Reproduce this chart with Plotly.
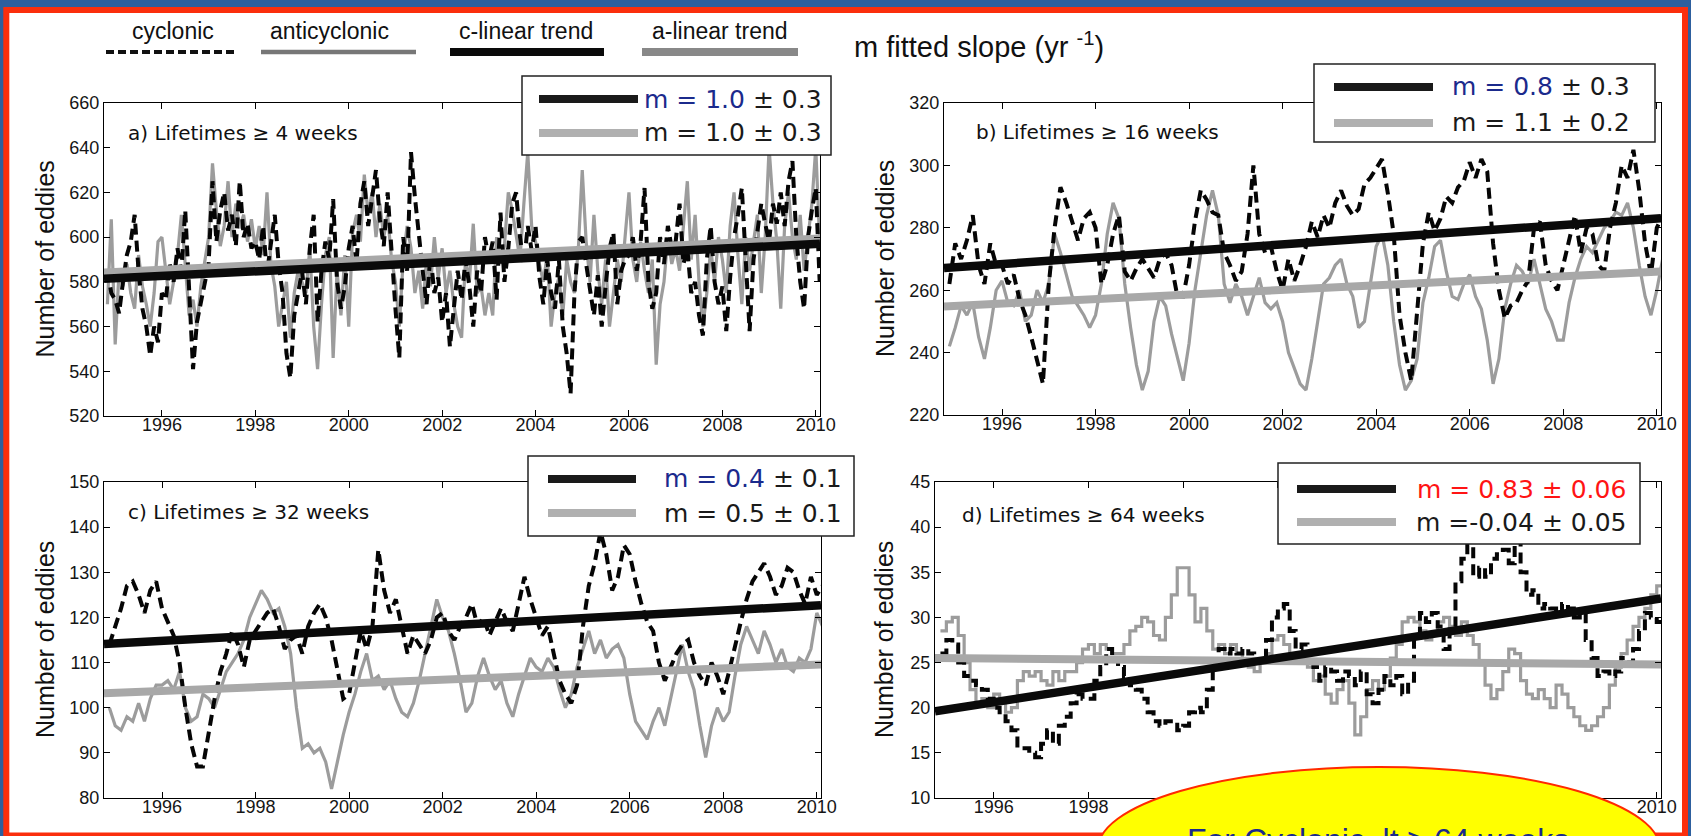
import plotly.graph_objects as go

W, H = 1691, 836

# ---------------- data ----------------
years_ticks = [1996, 1998, 2000, 2002, 2004, 2006, 2008, 2010]

# panel a : monthly grid starting Nov 1994
A_T0, A_STEP = 1994.833, 1.0 / 12
a_cyc = [585, 575,
         572, 566, 580, 592, 598, 610, 585, 568, 560, 547, 560, 553,
         575, 572, 588, 580, 595, 585, 612, 575, 541, 562, 570, 578,
         588, 625, 598, 612, 620, 603, 610, 596, 625, 600, 606, 595,
         598, 590, 605, 584, 598, 610, 588, 575, 548, 537, 565, 575,
         585, 570, 595, 610, 562, 585, 598, 590, 617, 580, 568, 578,
         595, 605, 588, 615, 625, 605, 618, 630, 608, 596, 620, 592,
         568, 546, 600, 585, 638, 618, 600, 585, 570, 592, 575, 582,
         562, 575, 551, 568, 585, 572, 590, 578, 560, 585, 575, 600,
         590, 598, 572, 611, 580, 595, 615, 620, 600, 588, 605, 594,
         605, 582, 570, 590, 575, 568, 590, 560, 548, 530, 575, 598,
         600, 588, 575, 565, 583, 560, 578, 595, 602, 570, 585, 590,
         592, 600, 585, 598, 622, 580, 568, 575, 600, 588, 605, 595,
         598, 615, 588, 595, 575, 580, 565, 556, 590, 605, 580, 570,
         578, 558, 582, 600, 610, 622, 590, 558, 590, 602, 615, 606,
         598, 615, 606, 620, 605, 625, 634, 600, 580, 568, 600, 612,
         622, 580]
a_anti = [570, 608,
          552, 585, 578, 588, 575, 568, 592, 578, 570, 560, 575, 598,
          600, 585, 570, 580, 592, 610, 588, 565, 572, 560, 578, 590,
          600, 633, 612, 596, 605, 625, 600, 615, 604, 610, 598, 608,
          595, 605, 592, 620, 588, 578, 560, 570, 580, 555, 575, 585,
          580, 575, 595, 560, 541, 570, 592, 600, 546, 585, 565, 592,
          560, 602, 610, 598, 628, 610, 620, 600, 615, 600, 610, 590,
          580, 560, 590, 605, 595, 575, 585, 568, 590, 578, 600, 582,
          595, 575, 585, 570, 560, 555, 590, 580, 606, 575, 578, 565,
          575, 565, 600, 588, 596, 620, 612, 600, 590, 615, 638, 605,
          598, 588, 580, 592, 560, 575, 582, 565, 590, 580, 575, 595,
          630, 598, 580, 610, 585, 570, 590, 560, 575, 590, 580, 600,
          620, 590, 580, 598, 585, 575, 590, 543, 570, 580, 600, 588,
          595, 585, 605, 625, 590, 610, 580, 560, 575, 595, 580, 600,
          590, 575, 605, 620, 592, 570, 600, 585, 598, 610, 575, 600,
          640, 615, 598, 568, 605, 620, 600, 590, 610, 585, 600, 615,
          640, 598]

# panels b, c, d : 1.5-month grid starting Nov 1994
T0, STEP = 1994.875, 0.125
b_cyc = [262,
         275, 270, 276, 284, 268, 262, 275, 268,
         268, 262, 265, 257, 252, 245, 237, 230,
         262, 280, 293, 288, 282, 276, 283, 285,
         280, 262, 268, 278, 284, 266, 263, 267,
         270, 267, 264, 270, 272, 268, 258, 258,
         268, 282, 292, 289, 285, 284, 272, 268,
         263, 266, 278, 300, 278, 272, 274, 266,
         260, 270, 263, 268, 274, 282, 277, 284,
         280, 288, 292, 287, 284, 286, 294, 296,
         299, 302, 291, 278, 252, 240, 231, 255,
         275, 285, 279, 283, 290, 288, 293, 295,
         301, 296, 302, 298, 275, 260, 251, 255,
         256, 260, 263, 280, 282, 268, 263, 260,
         268, 276, 284, 272, 280, 278, 268, 266,
         280, 288, 300, 296, 305, 292, 275, 265,
         280, 284]
b_anti = [242,
          248, 255, 252, 256, 245, 238, 248, 260,
          263, 256, 255, 260, 250, 252, 260, 256,
          262, 278, 272, 265, 258, 255, 252, 248,
          252, 262, 278, 288, 283, 262, 248, 236,
          228, 234, 250, 258, 255, 246, 238, 231,
          243, 260, 272, 284, 292, 284, 262, 256,
          262, 258, 252, 258, 264, 256, 254, 256,
          250, 240, 235, 230, 228, 238, 250, 262,
          264, 268, 270, 262, 258, 248, 250, 262,
          274, 278, 268, 250, 236, 228, 231, 238,
          256, 264, 274, 276, 266, 258, 257, 262,
          265, 258, 254, 244, 230, 238, 254, 262,
          268, 266, 262, 270, 262, 254, 250, 244,
          244, 256, 264, 270, 274, 272, 276, 280,
          282, 285, 284, 288, 280, 268, 258, 252,
          260, 270]
c_cyc = [114,
         118, 122, 127, 128, 125, 121, 126, 128,
         122, 119, 116, 110, 100, 92, 87, 87,
         95, 102, 108, 112, 117, 114, 109, 115,
         117, 119, 121, 122, 118, 113, 115, 116,
         112, 118, 121, 123, 120, 115, 108, 102,
         103, 110, 117, 113, 118, 135, 126, 121,
         124, 118, 112, 116, 114, 112, 115, 120,
         121, 117, 115, 118, 120, 123, 118, 120,
         116, 119, 122, 119, 117, 123, 129, 124,
         120, 116, 118, 112, 106, 103, 101, 105,
         118, 127, 132, 139, 134, 126, 129, 136,
         134, 128, 123, 119, 117, 110, 106, 109,
         112, 114, 115, 110, 107, 105, 110, 107,
         103, 108, 114, 119, 124, 128, 130, 132,
         129, 125, 127, 131, 130, 126, 123, 129,
         125, 127]
c_anti = [100,
          96, 95, 98, 97, 101, 97, 102, 105,
          105, 106, 104, 108, 100, 97, 98, 103,
          102, 100, 104, 108, 110, 112, 115, 120,
          123, 126, 124, 121, 122, 118, 112, 100,
          91, 92, 90, 91, 88, 82, 88, 94,
          99, 103, 108, 112, 106, 107, 104, 106,
          102, 99, 98, 101, 106, 112, 118, 124,
          120, 117, 112, 106, 99, 101, 107, 111,
          107, 104, 106, 101, 98, 103, 107, 111,
          109, 108, 111, 109, 104, 100, 103, 109,
          113, 117, 112, 115, 111, 113, 114, 111,
          103, 97, 95, 93, 97, 100, 96, 102,
          108, 114, 108, 104, 96, 89, 96, 100,
          97, 99, 107, 114, 118, 115, 112, 117,
          114, 110, 113, 109, 108, 111, 110, 113,
          121, 118]
d_cyc = [26,
         27.5, 27, 25, 23.5, 23, 22.5, 22, 21,
         20, 19.5, 18.5, 17.5, 15.5, 15.5, 15, 14.5,
         16, 17.5, 16, 18, 19, 20.5, 21.5, 21,
         21, 23, 24.5, 26.5, 25.5, 24.5, 23.5, 22.5,
         22, 21, 19.5, 18.5, 18, 18.5, 18.5, 17.5,
         18, 19.5, 20, 19.5, 22, 25, 26.5, 26,
         26.5, 26, 26.5, 26, 25, 25.5, 27.5, 30,
         31, 31.5, 28.5, 26.5, 27, 26, 24.5, 23,
         24.5, 24, 23, 24, 23.5, 22.5, 24, 21.5,
         20.5, 22, 23.5, 22.5, 23.5, 21.5, 23, 28,
         30.5, 29.5, 30.5, 29, 26.5, 29, 34, 36.5,
         38, 34.5, 35.5, 34.5, 36.5, 37, 37.5, 36,
         38.5, 35, 32.5, 33, 31, 31.5, 31, 30.5,
         31.5, 31, 30, 30.5, 27.5, 25.5, 23.5, 24,
         23.5, 24, 25.5, 25, 26.5, 28.5, 30.5, 30,
         29.5, 29]
d_anti = [28.5,
          29.5, 30, 28, 25, 22, 20.5, 21, 20,
          21.5, 21, 19.5, 20, 23, 24, 23.5, 24,
          23, 22.5, 24, 23, 24, 24, 25, 26.5,
          27, 26, 27, 26.5, 26, 26, 27, 28.5,
          29, 30, 29.5, 28, 27.5, 30, 32.5, 35.5,
          35.5, 32.5, 29.5, 31, 28.5, 26.5, 27, 26,
          27, 26, 25, 24.5, 24, 25, 26, 27.5,
          28, 27, 26, 25, 25, 24.5, 23, 23.5,
          21.5, 20.5, 22, 23, 20.5, 17, 19, 22,
          23, 22, 23.5, 25.5, 27, 29.5, 30, 29.5,
          28.5, 27.5, 28, 29.5, 30, 29, 28, 29.5,
          28, 27, 25, 22.5, 21, 22, 24, 26.5,
          26, 23, 21.5, 21, 22, 21, 20, 22.5,
          21.5, 20, 19, 18, 17.5, 18, 19, 20,
          22.5, 24.5, 26, 27.5, 29, 30, 31, 32.5,
          33.5, 34]

# linear trends (value at start and end of the time axis)
trend_t = [1994.76, 2010.09]
a_ctrend, a_atrend = [581.4, 597.0], [584.2, 599.4]
b_ctrend, b_atrend = [267.1, 283.1], [254.8, 266.0]
c_ctrend, c_atrend = [114.1, 122.7], [103.2, 109.6]
d_ctrend, d_atrend = [19.6, 32.1], [25.5, 24.8]

titles = ["a) Lifetimes \u2265 4 weeks", "b) Lifetimes \u2265 16 weeks",
          "c) Lifetimes \u2265 32 weeks", "d) Lifetimes \u2265 64 weeks"]
c_slopes = ["1.0", "0.8", "0.4", "0.83"]
c_errs = ["0.3", "0.3", "0.1", "0.06"]
a_slopes = ["1.0", "1.1", "0.5", "-0.04"]
a_errs = ["0.3", "0.2", "0.1", "0.05"]
y_ranges = [[520, 660], [220, 320], [80, 150], [10, 45]]
y_dticks = [20, 20, 10, 5]
legend_names = ["cyclonic", "anticyclonic", "c-linear trend", "a-linear trend"]

# ---------------- helpers ----------------
def px(x):
    return x / W

def py(y):
    return 1 - y / H

def grid(t0, step, n):
    return [t0 + step * i for i in range(n)]

# panel geometry in pixels: (left, right, top, bottom)
boxes = [(104, 820, 103, 416), (944, 1661, 103, 415),
         (104, 821, 482, 798), (935, 1661, 482, 798)]

series = [
    (grid(A_T0, A_STEP, len(a_cyc)), a_cyc, grid(A_T0, A_STEP, len(a_anti)), a_anti, a_ctrend, a_atrend, "linear"),
    (grid(T0, STEP, len(b_cyc)), b_cyc, grid(T0, STEP, len(b_anti)), b_anti, b_ctrend, b_atrend, "linear"),
    (grid(T0, STEP, len(c_cyc)), c_cyc, grid(T0, STEP, len(c_anti)), c_anti, c_ctrend, c_atrend, "linear"),
    (grid(T0, STEP, len(d_cyc)), d_cyc, grid(T0, STEP, len(d_anti)), d_anti, d_ctrend, d_atrend, "hv"),
]

BLACK = "#050505"
GREY = "#9c9c9c"
TGREY = "#a8a8a8"
NAVY = "#1b2a8c"
TICKFONT = dict(family="Liberation Sans, Arial, sans-serif", size=18, color="#151515")

fig = go.Figure()
layout = {}
for k, (tc, yc, ta, ya, ct, at, shape) in enumerate(series):
    xa = "x" if k == 0 else f"x{k+1}"
    ya_ = "y" if k == 0 else f"y{k+1}"
    fig.add_trace(go.Scatter(x=ta, y=ya, mode="lines", xaxis=xa, yaxis=ya_,
                             line=dict(color=GREY, width=3.2, shape=shape), showlegend=False))
    fig.add_trace(go.Scatter(x=tc, y=yc, mode="lines", xaxis=xa, yaxis=ya_,
                             line=dict(color=BLACK, width=4, dash="11px,6px", shape=shape), showlegend=False))
    fig.add_trace(go.Scatter(x=trend_t, y=at, mode="lines", xaxis=xa, yaxis=ya_,
                             line=dict(color=TGREY, width=8), showlegend=False))
    fig.add_trace(go.Scatter(x=trend_t, y=ct, mode="lines", xaxis=xa, yaxis=ya_,
                             line=dict(color="#0a0a0a", width=8.5), showlegend=False))
    l, r, t, b = boxes[k]
    common = dict(showline=True, linecolor="black", linewidth=1.3, mirror="ticks",
                  ticks="inside", ticklen=6, tickwidth=1, tickcolor="black",
                  showgrid=False, zeroline=False, tickfont=TICKFONT, automargin=False)
    xkey = "xaxis" if k == 0 else f"xaxis{k+1}"
    ykey = "yaxis" if k == 0 else f"yaxis{k+1}"
    layout[xkey] = dict(domain=[px(l), px(r)], range=[1994.76, 2010.09],
                        tickvals=years_ticks, ticktext=[str(v) for v in years_ticks],
                        ticklabelstandoff=-8, anchor=ya_, **common)
    y0, y1 = y_ranges[k]
    layout[ykey] = dict(domain=[py(b), py(t)], range=[y0, y1],
                        tickmode="linear", tick0=y0, dtick=y_dticks[k],
                        anchor=xa, **common)

fig.update_layout(**layout)

shapes = []
annotations = []

# slide frame: red border, white panel
shapes.append(dict(type="rect", xref="paper", yref="paper", layer="below",
                   x0=px(6.3), x1=px(1685), y0=py(10), y1=py(835.5),
                   fillcolor="white", line=dict(color="#fb2e0c", width=6)))

# y axis labels and panel titles
ylab_x = [45, 885, 45, 884]
title_pos = [(126, 133), (974, 132), (126, 512), (960, 515)]
for k in range(4):
    l, r, t, b = boxes[k]
    annotations.append(dict(text="Number of eddies", xref="paper", yref="paper",
                            x=px(ylab_x[k]), y=py((t + b) / 2), textangle=-90,
                            showarrow=False, xanchor="center", yanchor="middle",
                            font=dict(family="Liberation Sans, Arial, sans-serif", size=25, color="#111")))
    annotations.append(dict(text=titles[k], xref="paper", yref="paper",
                            x=px(title_pos[k][0]), y=py(title_pos[k][1]),
                            showarrow=False, xanchor="left", yanchor="middle",
                            font=dict(family="DejaVu Sans, sans-serif", size=20, color="#111")))

# in-panel slope legends: box (l, r, t, b), line x-span, rows y, text right edge
leg = [
    ((522, 831, 76, 155), (539, 638), (99, 133), 824),
    ((1314, 1655, 64, 142), (1334, 1433), (87, 123), 1632),
    ((528, 854, 456, 536), (548, 636), (479, 513), 844),
    ((1278, 1640, 463, 544), (1297, 1396), (489, 522), 1628),
]
for k, (bx, lx, rows, tr) in enumerate(leg):
    shapes.append(dict(type="rect", xref="paper", yref="paper", layer="above",
                       x0=px(bx[0]), x1=px(bx[1]), y0=py(bx[3]), y1=py(bx[2]),
                       fillcolor="white", line=dict(color="#222", width=1.5)))
    shapes.append(dict(type="line", xref="paper", yref="paper", layer="above",
                       x0=px(lx[0]), x1=px(lx[1]), y0=py(rows[0]), y1=py(rows[0]),
                       line=dict(color="#1a1a1a", width=8)))
    shapes.append(dict(type="line", xref="paper", yref="paper", layer="above",
                       x0=px(lx[0]), x1=px(lx[1]), y0=py(rows[1]), y1=py(rows[1]),
                       line=dict(color="#b0b0b0", width=8)))
    if k == 3:
        t1 = f'<span style="color:#ff1414">m = {c_slopes[k]} \u00b1 {c_errs[k]}</span>'
        t2 = f"m ={a_slopes[k]} \u00b1 {a_errs[k]}"
    else:
        t1 = f'<span style="color:{NAVY}">m = {c_slopes[k]}</span> \u00b1 {c_errs[k]}'
        t2 = f"m = {a_slopes[k]} \u00b1 {a_errs[k]}"
    for txt, ry in ((t1, rows[0]), (t2, rows[1])):
        annotations.append(dict(text=txt, xref="paper", yref="paper",
                                x=px(tr), y=py(ry), showarrow=False,
                                xanchor="right", yanchor="middle",
                                font=dict(family="DejaVu Sans, sans-serif", size=25, color="#1a1a1a")))

# top legend
top_leg = [
    (173, (106, 235), dict(color="#111", width=4, dash="8px,4px")),
    (329, (261, 416), dict(color="#777", width=4.5)),
    (526, (450, 604), dict(color="#0a0a0a", width=8)),
    (720, (642, 798), dict(color="#888", width=8)),
]
for name, (cx, (x0, x1), ln) in zip(legend_names, top_leg):
    annotations.append(dict(text=name, xref="paper", yref="paper", x=px(cx), y=py(31),
                            showarrow=False, xanchor="center", yanchor="middle",
                            font=dict(family="Liberation Sans, Arial, sans-serif", size=23, color="#111")))
    shapes.append(dict(type="line", xref="paper", yref="paper", layer="above",
                       x0=px(x0), x1=px(x1), y0=py(52), y1=py(52), line=ln))
annotations.append(dict(text="m fitted slope (yr <sup>-1</sup>)", xref="paper", yref="paper",
                        x=px(852), y=py(45), showarrow=False, xanchor="left", yanchor="middle",
                        font=dict(family="Liberation Sans, Arial, sans-serif", size=29, color="#111")))

# yellow call-out ellipse
shapes.append(dict(type="circle", xref="paper", yref="paper", layer="above",
                   x0=px(1098), x1=px(1660), y0=py(931), y1=py(767),
                   fillcolor="#ffff00", line=dict(color="#ff2a00", width=2)))
annotations.append(dict(text="For Cyclonic, lt \u2265 64 weeks", xref="paper", yref="paper",
                        x=px(1378), y=py(820), showarrow=False, xanchor="center", yanchor="top",
                        font=dict(family="Liberation Sans, Arial, sans-serif", size=32, color="#1a2a8c")))

fig.update_layout(width=W, height=H, margin=dict(l=0, r=0, t=0, b=0, pad=0, autoexpand=False),
                  paper_bgcolor="#2d5f9e", plot_bgcolor="white",
                  shapes=shapes, annotations=annotations, showlegend=False)

fig.write_html("out.html", config={"displayModeBar": False},
               post_script="document.body.style.margin='0';document.body.style.overflow='hidden';")
